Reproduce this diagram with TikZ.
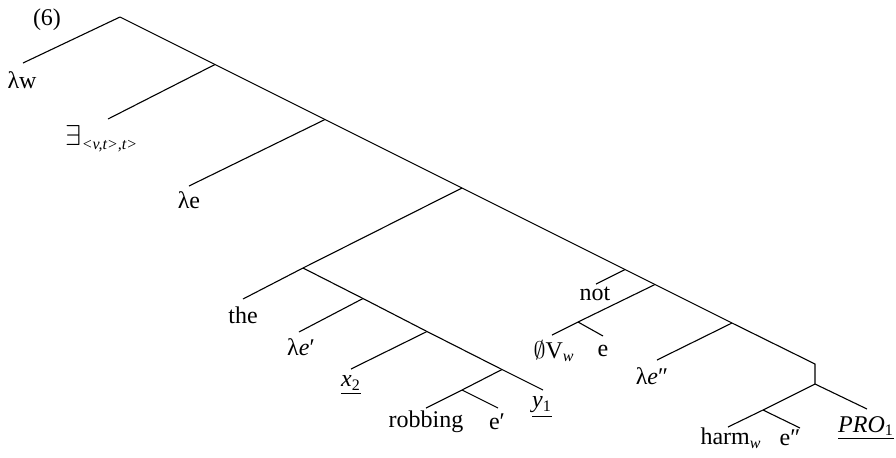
\documentclass[tikz,border=0pt]{standalone}
\usepackage{fontspec}
\setmainfont{Liberation Serif}
\tikzset{
    leaf/.style={font=\fontsize{12}{14}\selectfont, inner sep=0pt},
    branch/.style={line width=0.55pt}
}
\begin{document}
\begin{tikzpicture}[x=0.5pt, y=-0.5pt]
    \useasboundingbox (0,0) rectangle (896,457);

    % Spine branch points
    \coordinate (root) at (120,17);
    \coordinate (n1) at (215,64.5);
    \coordinate (n2) at (325,119.5);
    \coordinate (n3) at (462,188);
    \coordinate (n4) at (625,269.5);
    \coordinate (n5) at (655,284.5);
    \coordinate (n6) at (732,323);
    \coordinate (n7) at (815,364);
    \coordinate (n8) at (815,384);

    % Spine
    \draw[branch] (root) -- (n1) -- (n2) -- (n3) -- (n4) -- (n5) -- (n6) -- (n7) -- (n8);

    % Upper binders
    \coordinate (lwend) at (23,63);
    \coordinate (exend) at (108,119);
    \coordinate (leend) at (189,186);
    \draw[branch] (root) -- (lwend);
    \draw[branch] (n1) -- (exend);
    \draw[branch] (n2) -- (leend);
    \node[leaf] (num) at (47,20) {(6)};
    \node[leaf] (lw) at (22,80) {λw};
    \node[leaf] (ex) at (102,139) {{\fontsize{15}{15}\selectfont$\exists$}\textsubscript{\textit{<v,t>,t>}}};
    \node[leaf] (le) at (189,200) {λe};

    % Definite description subtree
    \coordinate (d) at (303,268);
    \coordinate (d1) at (363,298.5);
    \coordinate (d2) at (427,331.5);
    \coordinate (d3) at (502,369.5);
    \coordinate (d4) at (543,390);
    \coordinate (theend) at (243,299);
    \coordinate (lpend) at (299,332);
    \coordinate (xend) at (351,369);
    \coordinate (rob) at (462,390);
    \coordinate (robend) at (426,408);
    \coordinate (epend) at (498,408);
    \draw[branch] (n3) -- (d);
    \draw[branch] (d) -- (theend);
    \draw[branch] (d) -- (d1) -- (d2) -- (d3) -- (d4);
    \draw[branch] (d1) -- (lpend);
    \draw[branch] (d2) -- (xend);
    \draw[branch] (d3) -- (rob) -- (robend);
    \draw[branch] (rob) -- (epend);
    \node[leaf] (the) at (243,315) {the};
    \node[leaf] (lp) at (301,347) {λ\textit{e}′};
    \node[leaf] (x) at (351,385) {\underline{\textit{x}\textsubscript{2}}};
    \node[leaf] (robbing) at (426,422) {robbing};
    \node[leaf] (ep) at (497,422) {e′};
    \node[leaf] (y) at (542,407) {\underline{\textit{y}\textsubscript{1}}};

    % Negation and null verb
    \coordinate (notend) at (596,284);
    \coordinate (vend) at (552,335);
    \coordinate (m) at (578,322);
    \coordinate (eend) at (603,336);
    \draw[branch] (n4) -- (notend);
    \draw[branch] (n5) -- (m) -- (vend);
    \draw[branch] (m) -- (eend);
    \node[leaf] (not) at (595,294) {not};
    \node[leaf] (nullv) at (554,351) {$\emptyset$V\textsubscript{\textit{w}}};
    \node[leaf] (e) at (603,351) {e};

    % Lower binder and harm subtree
    \coordinate (lppend) at (657,360);
    \coordinate (harmend) at (728,427);
    \coordinate (h) at (763,410);
    \coordinate (eppend) at (800,428);
    \coordinate (proend) at (867,409);
    \draw[branch] (n6) -- (lppend);
    \draw[branch] (n8) -- (h) -- (harmend);
    \draw[branch] (h) -- (eppend);
    \draw[branch] (n8) -- (proend);
    \node[leaf] (lpp) at (652,376) {λ\textit{e}″};
    \node[leaf] (harm) at (731,438) {harm\textsubscript{\textit{w}}};
    \node[leaf] (epp) at (790,438) {e″};
    \node[leaf] (pro) at (866,428) {\underline{\textit{PRO}\textsubscript{1}}};
\end{tikzpicture}
\end{document}
